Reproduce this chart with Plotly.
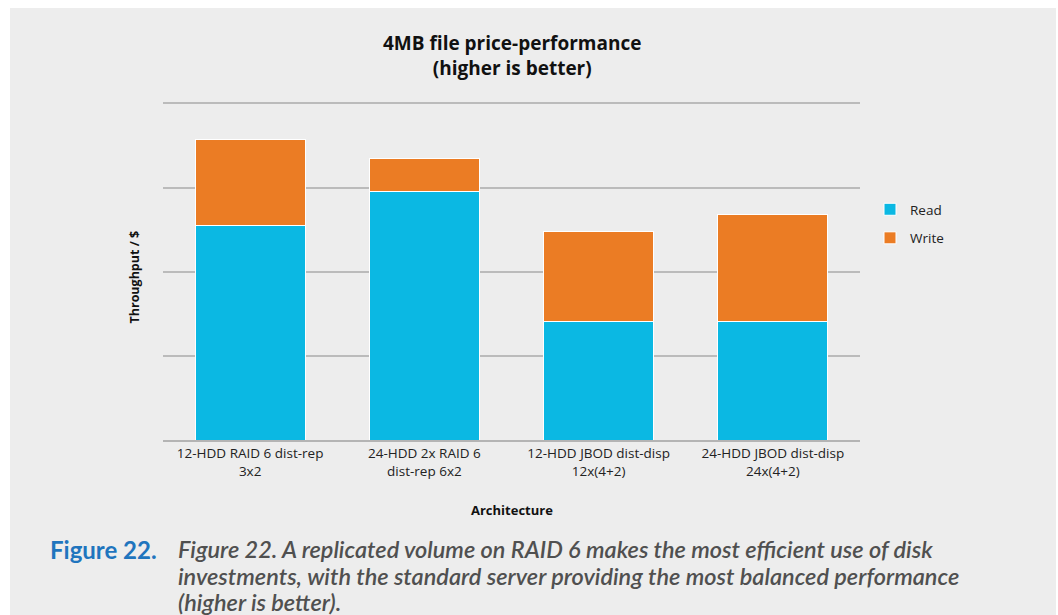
import plotly.graph_objects as go

# Architectures (tick labels, two lines each)
CATEGORIES = ["12-HDD RAID 6 dist-rep<br>3x2",
              "24-HDD 2x RAID 6<br>dist-rep 6x2",
              "12-HDD JBOD dist-disp<br>12x(4+2)",
              "24-HDD JBOD dist-disp<br>24x(4+2)"]
# Throughput / $ (unitless)
READ = [2.55, 2.95, 1.41, 1.41]
WRITE = [1.02, 0.40, 1.07, 1.27]

BLUE = "#0bb8e3"
ORANGE = "#eb7c24"
PANEL = "#ededed"

CAPTION = ["Figure 22. A replicated volume on RAID 6 makes the most efficient use of disk",
           "investments, with the standard server providing the most balanced performance",
           "(higher is better)."]

# plot area in pixels: x 163..860, y 95..440 (value 4 sits at ~103)
W, H = 1058, 615
L, R, T, B = 163, 198, 95, 175
PW, PH = W - L - R, H - T - B
YMAX = 4.1


def px(x):
    return (x - L) / PW


def py(y):
    return (H - B - y) / PH


fig = go.Figure()
fig.add_trace(go.Bar(name="Read", x=CATEGORIES, y=READ, marker=dict(color=BLUE, line=dict(color="white", width=1)),
                     legendgroup="r"))
fig.add_trace(go.Bar(name="Write", x=CATEGORIES, y=WRITE, marker=dict(color=ORANGE, line=dict(color="white", width=1)),
                     legendgroup="w"))

fig.add_shape(type="rect", xref="paper", yref="paper", x0=px(10), x1=px(1056), y0=py(615), y1=py(8),
              fillcolor=PANEL, line=dict(width=0), layer="below")

ann = [
    dict(text="<b>4MB file price-performance<br>(higher is better)</b>", x=0.5, y=py(56), yanchor="middle",
         font=dict(size=19, color="#111")),
    dict(text="<b>Architecture</b>", x=0.5, y=py(510), yanchor="middle", font=dict(size=13, color="#111")),
    dict(text="<b>Throughput / $</b>", x=px(123), y=py(277), textangle=-90, font=dict(size=12.5, color="#111")),
    dict(text="<b>Figure 22.</b>", x=px(48), xanchor="left", y=py(549), yanchor="middle",
         font=dict(size=24, color="#1f75be", family="Lato")),
]
for i, line in enumerate(CAPTION):
    ann.append(dict(text=line, x=px(176), xanchor="left", y=py(549 + 26.5 * i), yanchor="middle", align="left",
                    font=dict(size=23.5, color="#505050", family="Lato", style="italic", weight=600)))
for a in ann:
    a.setdefault("xref", "paper")
    a.setdefault("yref", "paper")
    a.setdefault("showarrow", False)
    fig.add_annotation(**a)

fig.update_layout(
    width=W, height=H,
    margin=dict(l=L, r=R, t=T, b=B),
    paper_bgcolor="white",
    plot_bgcolor="rgba(0,0,0,0)",
    barmode="stack",
    bargap=0.37,
    font=dict(family="Open Sans", size=13.5, color="#222"),
    showlegend=True,
    legend=dict(x=px(870), y=py(194), xanchor="left", yanchor="top", traceorder="grouped",
                tracegroupgap=8, font=dict(size=13.5, color="#222"), bgcolor="rgba(0,0,0,0)"),
    xaxis=dict(showgrid=False, showline=True, linecolor="#b4b4b4", linewidth=2, ticks="",
               tickfont=dict(size=13.5, color="#222")),
    yaxis=dict(range=[0, YMAX], tickvals=[1, 2, 3, 4], showticklabels=False, showgrid=True, gridcolor="#bbbbbb",
               gridwidth=2, zeroline=False, ticks=""),
)

fig.write_html("out.html", config={"displayModeBar": False},
               post_script="document.body.style.margin='0';")
